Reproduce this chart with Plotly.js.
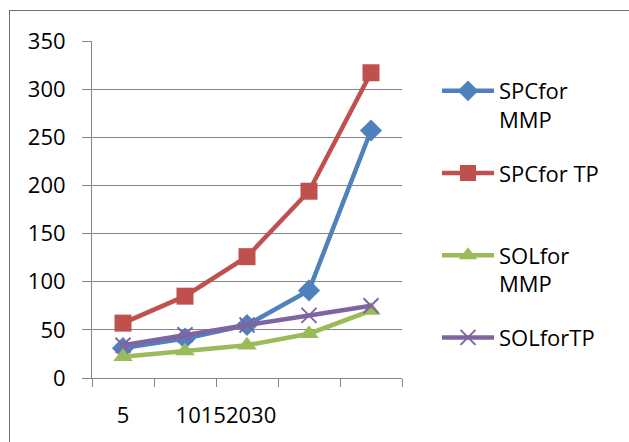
<!DOCTYPE html>
<html>
<head>
<meta charset="utf-8">
<script src="https://cdn.plot.ly/plotly-3.0.1.min.js"></script>
<style>
  html, body { margin: 0; padding: 0; background: #ffffff; }
  #wrap { position: relative; width: 629px; height: 442px; overflow: hidden; }
  #chart { position: absolute; left: 0; top: 0; width: 629px; height: 442px; }
  #frame { position: absolute; left: 9px; top: 10px; width: 700px; height: 500px;
           border: 1px solid #6f6f6f; pointer-events: none; }
</style>
</head>
<body>
<div id="wrap">
  <div id="chart"></div>
  <div id="frame"></div>
</div>
<script>
// ---- data ----
const categories = ["5", "10", "15", "20", "30"];
const spcForMMP = [31, 41, 55, 91, 257];
const spcForTP  = [57, 85, 126, 194, 317];
const solForMMP = [22, 28, 34, 46, 70];
const solForTP  = [34, 45, 55, 65, 75];
const seriesNames = ["SPCfor<br>MMP", "SPCfor TP<br>\u00a0", "SOLfor<br>MMP", "SOLforTP"];
const xTickLabels = ["5", "10152030"];
const yTickLabels = ["0", "50", "100", "150", "200", "250", "300", "350"];

// ---- build ----
const xIdx = categories.map((c, i) => i + 1);
const FONT = "Open Sans, Liberation Sans, sans-serif";
const FS = 22;

function tr(name, grp, y, color, symbol, msize, extra) {
  return {
    type: "scatter", mode: "lines+markers", name: name, legendgroup: grp,
    x: xIdx, y: y,
    line: { color: color, width: 4.5 },
    marker: Object.assign({ symbol: symbol, size: msize, color: color }, extra || {}),
    hoverinfo: "skip"
  };
}

const data = [
  tr(seriesNames[0], "g1", spcForMMP, "#4F81BD", "diamond", 17),
  tr(seriesNames[1], "g2", spcForTP,  "#C0504D", "square", 17),
  tr(seriesNames[2], "g3", solForMMP, "#9BBB59", "triangle-up", 17),
  tr(seriesNames[3], "g4", solForTP,  "#8064A2", "x-thin", 15, { line: { color: "#8064A2", width: 2 } })
];

const boundaries = [0].concat(xIdx).map(v => v + 0.5);

const layout = {
  width: 629, height: 442,
  margin: { l: 92, r: 227, t: 41, b: 64 },
  paper_bgcolor: "#ffffff", plot_bgcolor: "#ffffff",
  font: { family: FONT, size: FS, color: "#000000" },
  showlegend: true,
  xaxis: {
    type: "linear", range: [0.5, 5.5],
    tickvals: [1, 2.66], ticktext: xTickLabels,
    ticks: "", showgrid: false, zeroline: false,
    showline: true, linecolor: "#868686", linewidth: 1,
    ticklabelstandoff: 18,
    tickfont: { family: FONT, size: FS, color: "#000" },
    minor: { tickvals: boundaries, ticks: "outside", ticklen: 8, tickcolor: "#868686", tickwidth: 1, showgrid: false }
  },
  yaxis: {
    range: [0, 350], tickvals: yTickLabels.map(Number), ticktext: yTickLabels,
    showgrid: true, gridcolor: "#868686", gridwidth: 1,
    zeroline: false, showline: true, linecolor: "#868686", linewidth: 1,
    ticks: "outside", ticklen: 9, tickcolor: "#868686", tickwidth: 1,
    ticklabelstandoff: 12,
    tickfont: { family: FONT, size: FS, color: "#000" }
  },
  legend: {
    xref: "container", yref: "container",
    x: 437 / 629, xanchor: "left",
    y: 1 - 70 / 442, yanchor: "top",
    valign: "top",
    itemwidth: 52,
    maxheight: 420,
    font: { family: FONT, size: FS, color: "#000" },
    traceorder: "grouped",
    tracegroupgap: 22,
    bgcolor: "rgba(0,0,0,0)"
  }
};

Plotly.newPlot("chart", data, layout, { staticPlot: true, displayModeBar: false });
</script>
</body>
</html>
